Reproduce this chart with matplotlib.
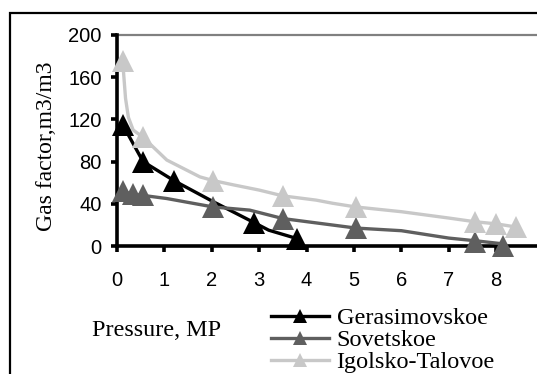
import matplotlib
matplotlib.use("Agg")
import matplotlib.pyplot as plt
from matplotlib.patches import Rectangle

# Measured points (markers): pressure, MPa / gas factor, m3/m3
ger_p = [0.12, 0.55, 1.2, 2.9, 3.8]
ger_g = [115, 80, 62, 22, 7]

sov_p = [0.12, 0.33, 0.54, 2.03, 3.5, 5.04, 7.55, 8.15]
sov_g = [52, 49, 48, 37, 26, 17, 4, 0]

igo_p = [0.12, 0.55, 2.03, 3.5, 5.04, 7.55, 8.0, 8.42]
igo_g = [175, 103, 62, 47.5, 37, 23, 21, 18]

# Drawn curves through the measurements
ger_curve_p = [0.12, 0.55, 1.2, 2.03, 2.9, 3.2, 3.8]
ger_curve_g = [115, 80, 62, 42, 22, 15, 7]

sov_curve_p = [0.12, 0.33, 0.54, 1.05, 1.6, 2.03, 2.8, 3.5, 5.04, 6.0, 7.0, 7.55, 8.15]
sov_curve_g = [52, 49, 48, 45, 40.5, 37, 34, 26, 17, 14.5, 7.5, 5, 2]

igo_curve_p = [0.12, 0.18, 0.24, 0.34, 0.55, 1.05, 1.75, 2.03, 2.45, 3.0, 3.5, 4.2, 4.55, 5.04, 6.0, 7.0, 7.55, 8.0, 8.42]
igo_curve_g = [175, 140, 122, 110, 103, 81.5, 65.5, 62, 58, 53, 47.5, 43.5, 40.5, 37, 32.5, 26.5, 23, 21, 18]

series_names = ["Gerasimovskoe", "Sovetskoe", "Igolsko-Talovoe"]
colors = ["#000000", "#5f5f5f", "#c8c8c8"]

x_ticks = [0, 1, 2, 3, 4, 5, 6, 7, 8]
y_ticks = [0, 40, 80, 120, 160, 200]

W, H = 537, 374
fig = plt.figure(figsize=(W / 100, H / 100), dpi=100)
fig.patch.set_facecolor("white")

left, right, top, bottom = 117, 537, 35, 246
ax = fig.add_axes([left / W, 1 - bottom / H, (right - left) / W, (bottom - top) / H])

ax.set_xlim(0, (right - left) / 47.4)
ax.set_ylim(0, 200)

ax.axhline(200, color="#808080", lw=1.6, zorder=1, clip_on=False)

data = [
    (ger_curve_p, ger_curve_g, ger_p, ger_g),
    (sov_curve_p, sov_curve_g, sov_p, sov_g),
    (igo_curve_p, igo_curve_g, igo_p, igo_g),
]
handles = []
for (cp, cg, mp, mg), name, c in zip(data, series_names, colors):
    ax.plot(cp, cg, color=c, lw=2.4, zorder=3, solid_joinstyle="round")
    ax.plot(mp, mg, linestyle="none", marker="^", ms=16, color=c,
            markeredgewidth=0, zorder=4, clip_on=False)
    h, = ax.plot([], [], color=c, lw=2.4, marker="^", ms=10, markeredgewidth=0)
    handles.append(h)

for side in ["top", "right"]:
    ax.spines[side].set_visible(False)
for side in ["left", "bottom"]:
    ax.spines[side].set_linewidth(2.6)
    ax.spines[side].set_color("black")

ax.set_xticks(x_ticks)
ax.set_yticks(y_ticks)
ax.tick_params(axis="both", direction="out", length=4, width=2.6, colors="black",
               labelsize=14.5)
ax.tick_params(axis="x", pad=14)
ax.tick_params(axis="y", pad=7)
for lab in ax.get_xticklabels() + ax.get_yticklabels():
    lab.set_fontfamily("Liberation Sans")

fig.text(46 / W, 1 - 146 / H, "Gas factor,m3/m3", rotation=90, ha="center", va="center",
         fontsize=17, family="Liberation Serif")
fig.text(92 / W, 1 - 330 / H, "Pressure, MP", ha="left", va="center",
         fontsize=17.4, family="Liberation Serif")

leg = fig.legend(handles, series_names, loc="upper left",
                 bbox_to_anchor=(271 / W, 1 - 307 / H), frameon=False,
                 prop={"family": "Liberation Serif", "size": 17.5},
                 handlelength=2.4, handletextpad=0.3, labelspacing=0.0,
                 borderpad=0, borderaxespad=0, numpoints=1)

fig.add_artist(Rectangle((10 / W, -0.1), 1.2, 1 - 13 / H + 0.1, transform=fig.transFigure,
                         fill=False, edgecolor="black", lw=1.6))

fig.savefig("out.png", dpi=100)
